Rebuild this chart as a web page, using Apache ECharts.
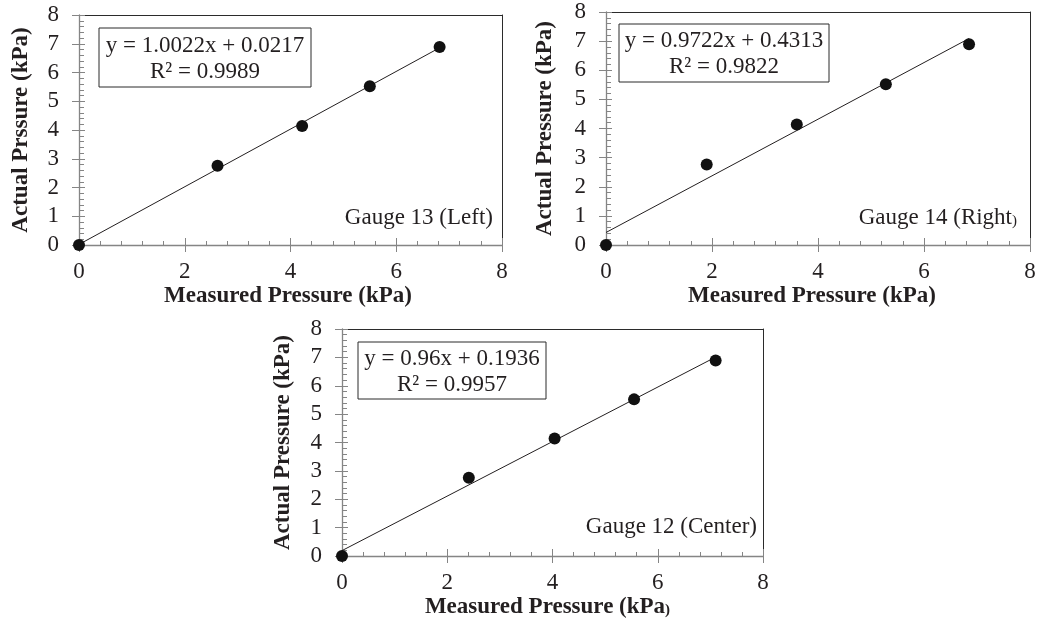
<!DOCTYPE html>
<html>
<head>
<meta charset="utf-8">
<title>Gauge calibration</title>
<script src="https://cdn.jsdelivr.net/npm/echarts@6/dist/echarts.min.js"></script>
<style>
  html, body { margin: 0; padding: 0; background: #fff; }
  #main { width: 1038px; height: 622px; }
</style>
</head>
<body>
<div id="main"></div>
<script>
// values
var actualPressure = [0, 2.76, 4.14, 5.52, 6.89];
var measured13 = [0, 2.62, 4.22, 5.5, 6.82];
var measured14 = [0, 1.9, 3.6, 5.28, 6.85];
var measured12 = [0, 2.41, 4.04, 5.55, 7.1];

// trend line ends [x, y]
var trend13 = [[0, 0.02], [6.82, 6.86]];
var trend14 = [[0, 0.43], [6.85, 7.09]];
var trend12 = [[0, 0.19], [7.1, 7.01]];

// axis ranges / tick steps
var axisMin = 0;
var axisMax = 8;
var xStep = 2;
var yStep = 1;

var eq13 = ["y = 1.0022x + 0.0217", "R\u00b2 = 0.9989"];
var eq14 = ["y = 0.9722x + 0.4313", "R\u00b2 = 0.9822"];
var eq12 = ["y = 0.96x + 0.1936", "R\u00b2 = 0.9957"];

var FONT = '"Liberation Serif", "Times New Roman", serif';
var AXIS_GREY = "#858585";
var FRAME = "#2b2b2b";
var INK = "#231f20";

function zip(xs, ys) {
  var out = [];
  for (var i = 0; i < xs.length; i++) out.push([xs[i], ys[i]]);
  return out;
}

// layout of the three panels
var panels = [
  {
    grid: { left: 79, top: 15, width: 423, height: 230 },
    xName: "Measured Pressure (kPa)", yName: "Actual Prssure (kPa)",
    yGap: 46, xPad: [0, 5, 0, 0],
    measured: measured13, trend: trend13, eq: eq13,
    box: { x: 99, y: 28, w: 212, h: 59 },
    label: "Gauge 13 (Left)", labelPos: [493, 218]
  },
  {
    grid: { left: 606, top: 12, width: 424, height: 233 },
    xName: "Measured Pressure (kPa)", yName: "Actual Pressure (kPa)",
    yGap: 49, xPad: [0, 12, 0, 0],
    measured: measured14, trend: trend14, eq: eq14,
    box: { x: 619, y: 24, w: 210, h: 58 },
    label: "Gauge 14 (Right{s|)}", labelPos: [1017, 218]
  },
  {
    grid: { left: 342, top: 329, width: 421, height: 227 },
    xName: "Measured Pressure (kPa{s|)}", yName: "Actual Pressure (kPa)",
    yGap: 47, xPad: [0, 10, 0, 0],
    measured: measured12, trend: trend12, eq: eq12,
    box: { x: 358, y: 342, w: 188, h: 57 },
    label: "Gauge 12 (Center)", labelPos: [757, 527]
  }
];

var grids = [], xAxes = [], yAxes = [], series = [], graphics = [];

panels.forEach(function (p, g) {
  grids.push(Object.assign({ outerBoundsMode: "none", containLabel: false }, p.grid));

  var bare = {
    type: "value", gridIndex: g, min: axisMin, max: axisMax,
    splitLine: { show: false }, axisLabel: { show: false }
  };

  // main x axis (labels, inner ticks, minor ticks)
  var xi = xAxes.length;
  xAxes.push({
    type: "value", gridIndex: g, min: axisMin, max: axisMax, interval: xStep,
    position: "bottom",
    axisLine: { show: true, onZero: false, lineStyle: { color: AXIS_GREY, width: 1.3 } },
    axisTick: { show: true, inside: true, length: 7, lineStyle: { color: AXIS_GREY } },
    minorTick: { show: true, splitNumber: 5, length: 4, lineStyle: { color: AXIS_GREY } },
    splitLine: { show: false },
    axisLabel: { margin: 15, color: INK, fontFamily: FONT, fontSize: 23 },
    name: p.xName, nameLocation: "middle", nameGap: 40,
    nameTextStyle: {
      color: INK, fontFamily: FONT, fontSize: 23, fontWeight: "bold", padding: p.xPad,
      rich: { s: { fontSize: 15, fontWeight: "bold", fontFamily: FONT, color: INK, padding: [6, 0, 0, 0] } }
    }
  });
  // outer half of the major ticks
  xAxes.push(Object.assign({}, bare, {
    interval: xStep, position: "bottom",
    axisLine: { show: false },
    axisTick: { show: true, inside: false, length: 7, lineStyle: { color: AXIS_GREY } }
  }));
  // top frame
  xAxes.push(Object.assign({}, bare, {
    position: "top",
    axisLine: { show: true, onZero: false, lineStyle: { color: FRAME, width: 1 } },
    axisTick: { show: false }
  }));

  var yi = yAxes.length;
  yAxes.push({
    type: "value", gridIndex: g, min: axisMin, max: axisMax, interval: yStep,
    position: "left",
    axisLine: { show: true, onZero: false, lineStyle: { color: AXIS_GREY, width: 1.3 } },
    axisTick: { show: true, inside: true, length: 6, lineStyle: { color: AXIS_GREY } },
    minorTick: { show: true, splitNumber: 5, length: 5, lineStyle: { color: AXIS_GREY } },
    splitLine: { show: false },
    axisLabel: { margin: 20, color: INK, fontFamily: FONT, fontSize: 23 },
    name: p.yName, nameLocation: "middle", nameGap: p.yGap, nameRotate: 90,
    nameTextStyle: { color: INK, fontFamily: FONT, fontSize: 23, fontWeight: "bold" }
  });
  yAxes.push(Object.assign({}, bare, {
    interval: yStep, position: "left",
    axisLine: { show: false },
    axisTick: { show: true, inside: false, length: 7, lineStyle: { color: AXIS_GREY } }
  }));
  // right frame
  yAxes.push(Object.assign({}, bare, {
    position: "right",
    axisLine: { show: true, onZero: false, lineStyle: { color: FRAME, width: 1 } },
    axisTick: { show: false }
  }));

  series.push({
    type: "line", xAxisIndex: xi, yAxisIndex: yi,
    data: p.trend, showSymbol: false, silent: true, clip: false,
    lineStyle: { color: INK, width: 1 }, z: 3
  });
  series.push({
    type: "scatter", xAxisIndex: xi, yAxisIndex: yi,
    data: zip(p.measured, actualPressure), symbolSize: 12, clip: false,
    itemStyle: { color: "#111", opacity: 1 }, z: 4
  });

  // equation box
  graphics.push({
    type: "rect", z: 100,
    shape: { x: p.box.x, y: p.box.y, width: p.box.w, height: p.box.h },
    style: { fill: "#fff", stroke: FRAME, lineWidth: 1 }
  });
  graphics.push({
    type: "text", z: 101,
    x: p.box.x + p.box.w / 2, y: p.box.y + p.box.h / 2 + 1,
    style: {
      text: p.eq.join("\n"), font: "23px " + FONT, fill: INK,
      align: "center", verticalAlign: "middle", lineHeight: 26
    }
  });
  // gauge label
  graphics.push({
    type: "text", z: 101,
    x: p.labelPos[0], y: p.labelPos[1],
    style: {
      text: p.label, font: "23px " + FONT, fill: INK,
      align: "right", verticalAlign: "middle",
      rich: { s: { font: "15px " + FONT, fill: INK, padding: [6, 0, 0, 0] } }
    }
  });
});

var myChart = echarts.init(document.getElementById("main"));
myChart.setOption({
  backgroundColor: "#fff",
  animation: false,
  grid: grids,
  xAxis: xAxes,
  yAxis: yAxes,
  series: series,
  graphic: graphics
});
</script>
</body>
</html>
